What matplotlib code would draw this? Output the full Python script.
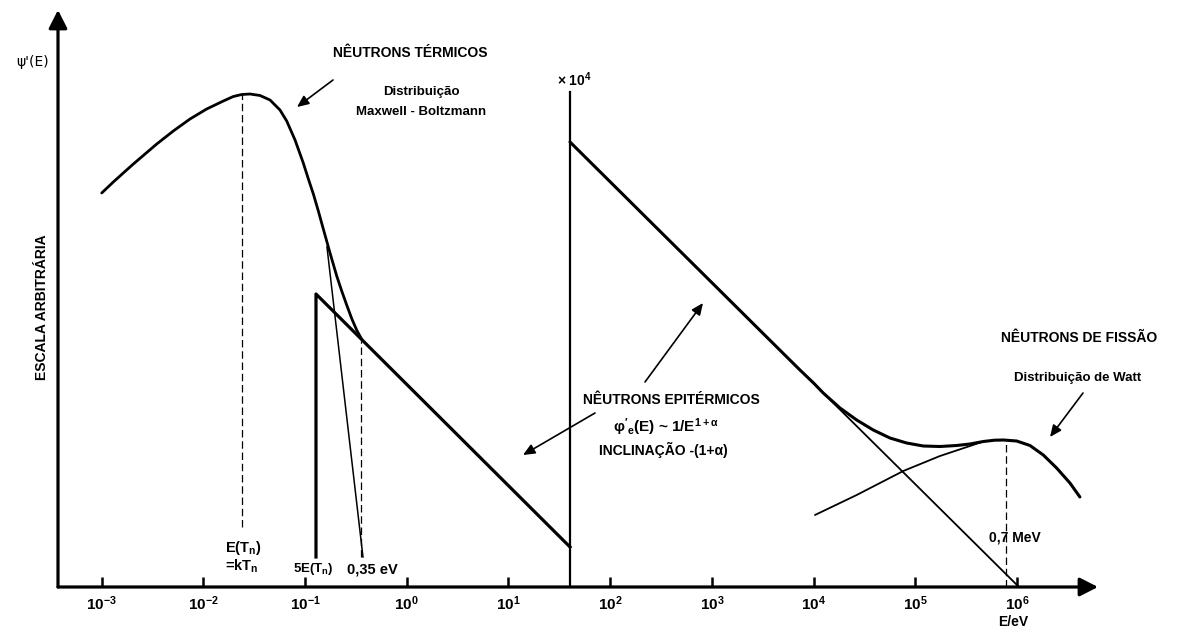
import numpy as np
import matplotlib.pyplot as plt
from matplotlib.patches import FancyArrowPatch
from matplotlib.ticker import NullLocator

plt.rcParams['font.family'] = ['Liberation Sans', 'DejaVu Sans']
plt.rcParams['font.weight'] = 'bold'
plt.rcParams['mathtext.fontset'] = 'dejavusans'
plt.rcParams['mathtext.default'] = 'regular'

# --- data (log10 E in eV, arbitrary flux units) ---
# thermal: Maxwell-Boltzmann
maxw_logE = [-3.00, -2.886, -2.788, -2.689, -2.574, -2.459, -2.296, -2.132, -1.968,
             -1.804, -1.706, -1.623, -1.542, -1.443, -1.345, -1.247, -1.181, -1.099,
             -1.018, -0.971, -0.919, -0.870, -0.821, -0.755, -0.689, -0.640, -0.591,
             -0.540, -0.493, -0.44]
maxw_phi = [394, 405, 414, 423, 433, 443, 456, 468, 478,
            486, 490.5, 492.5, 493, 491.5, 487, 477, 466, 447,
            424, 409, 393, 376, 358, 334, 311, 296, 282,
            268, 257, 247]

# epithermal 1/E part below the cut (thermal scale)
epi_low_logE = [-0.893, -0.893, 1.605]
epi_low_phi = [30, 293, 40]

# steep tangent to Maxwell curve
tang_logE = [-0.785, -0.431]
tang_phi = [340, 30]

# epithermal 1/E on the x10^4 scale
epi_high_logE = [1.605, 6.02]
epi_high_phi = [445, 0]

# total (epithermal + fission) curve
tot_logE = [1.605, 3.866, 4.0, 4.095, 4.260, 4.424, 4.587, 4.751, 4.915, 5.079, 5.243,
            5.407, 5.538, 5.669, 5.78, 5.866, 5.997, 6.128, 6.259, 6.390, 6.521, 6.619]
tot_phi = [445, 217, 204, 194, 179, 167, 157, 149, 144, 141, 140.5,
           141.5, 143, 145.5, 146.8, 147, 146, 141.5, 132, 119, 104, 90]

# Watt fission spectrum (rising part)
watt_logE = [4.014, 4.424, 4.882, 5.243, 5.538, 5.669]
watt_phi = [72, 92, 116, 131, 141, 145.5]

# reference energies
cut_logE = 1.605      # where scale changes (x10^4)
cut_top = 495
ekt_logE = -1.62      # E(Tn) = kTn
e035_logE = -0.45     # 0.35 eV
e07_logE = 5.89       # 0.7 MeV

ticks = [1e-3, 1e-2, 1e-1, 1e0, 1e1, 1e2, 1e3, 1e4, 1e5, 1e6]

W, H = 1178, 634


def P(x, y):
    return (x / W, 1 - y / H)


def E(v):
    return 10 ** np.array(v)


fig = plt.figure(figsize=(W / 100, H / 100), dpi=100)
ax = fig.add_axes([58 / W, 47 / H, 1040 / W, 577 / H])
ax.set_xscale('log')
ax.set_xlim(10 ** -3.43, 10 ** 6.797)
ax.set_ylim(0, 577)
for s in ax.spines.values():
    s.set_visible(False)
ax.set_yticks([])
ax.set_xticks(ticks)
ax.xaxis.set_minor_locator(NullLocator())
ax.tick_params(axis='x', direction='in', length=7, width=1.8, pad=5, labelsize=11)

# axes with arrows
ap = dict(arrowstyle='-|>,head_length=0.55,head_width=0.28', lw=2.3, color='k',
          shrinkA=0, shrinkB=0, mutation_scale=20)
ax.annotate('', xy=(0, 1), xytext=(0, 0), xycoords='axes fraction', arrowprops=ap,
            annotation_clip=False)
ax.annotate('', xy=(1, 0), xytext=(0, 0), xycoords='axes fraction', arrowprops=ap,
            annotation_clip=False)

# curves
rnd = dict(solid_joinstyle='round', solid_capstyle='round')
ax.plot(E(maxw_logE), maxw_phi, color='k', lw=2.0, **rnd)
ax.plot(E(epi_low_logE), epi_low_phi, color='k', lw=2.3)
ax.plot(E(tang_logE), tang_phi, color='k', lw=1.1)
ax.plot([E(cut_logE)] * 2, [0, cut_top], color='k', lw=1.6)
ax.plot(E(epi_high_logE), epi_high_phi, color='k', lw=1.3)
ax.plot(E(tot_logE), tot_phi, color='k', lw=2.2, **rnd)
ax.plot(E(watt_logE), watt_phi, color='k', lw=1.3, **rnd)

dash = dict(color='k', lw=0.9, ls=(0, (6, 3)))
ax.plot([E(ekt_logE)] * 2, [60, 493], **dash)
ax.plot([E(e035_logE)] * 2, [30, 246], **dash)
ax.plot([E(e07_logE)] * 2, [0, 147], **dash)

# texts
fig.text(*P(33, 62), "ψ'(E)", fontsize=10, fontweight='normal', family='DejaVu Sans',
         ha='center', va='center')
fig.text(*P(42, 307), 'ESCALA ARBITRÁRIA', fontsize=10, rotation=90, ha='center', va='center')
fig.text(*P(410, 53), 'NÊUTRONS TÉRMICOS', fontsize=10, ha='center', va='center')
fig.text(*P(421, 92), 'Distribuição', fontsize=9.5, ha='center', va='center')
fig.text(*P(421, 112), 'Maxwell - Boltzmann', fontsize=9.5, ha='center', va='center')
fig.text(*P(574, 80), r'× 10$^4$', fontsize=10, ha='center', va='center')
fig.text(*P(671, 400), 'NÊUTRONS EPITÉRMICOS', fontsize=10, ha='center', va='center')
fig.text(*P(666, 427), r"$\varphi'_e$(E) ~ 1/E$^{1+\alpha}$", fontsize=11,
         ha='center', va='center')
fig.text(*P(663, 450), 'INCLINAÇÃO -(1+α)', fontsize=10, ha='center', va='center')
fig.text(*P(1079, 338), 'NÊUTRONS DE FISSÃO', fontsize=10, ha='center', va='center')
fig.text(*P(1078, 378), 'Distribuição de Watt', fontsize=9.5, ha='center', va='center')
fig.text(*P(1015, 537), '0,7 MeV', fontsize=10, ha='center', va='center')
fig.text(*P(1013, 622), 'E/eV', fontsize=10, ha='center', va='center')
fig.text(*P(225, 548), r'E(T$_n$)', fontsize=10.5, ha='left', va='center')
fig.text(*P(225, 566), r'=kT$_n$', fontsize=10.5, ha='left', va='center')
fig.text(*P(313, 569), r'5E(T$_n$)', fontsize=9.5, ha='center', va='center')
fig.text(*P(372, 570), '0,35 eV', fontsize=10.5, ha='center', va='center')

# arrows
arr = dict(arrowstyle='-|>,head_length=0.5,head_width=0.22', lw=1.2, color='k',
           shrinkA=0, shrinkB=0, mutation_scale=14)
for tail, head in [((333, 80), (297, 107)), ((645, 382), (703, 303)),
                   ((595, 413), (523, 455)), ((1083, 393), (1050, 437))]:
    fig.add_artist(FancyArrowPatch(P(*tail), P(*head), transform=fig.transFigure, **arr))

fig.savefig('out.png', dpi=100)
